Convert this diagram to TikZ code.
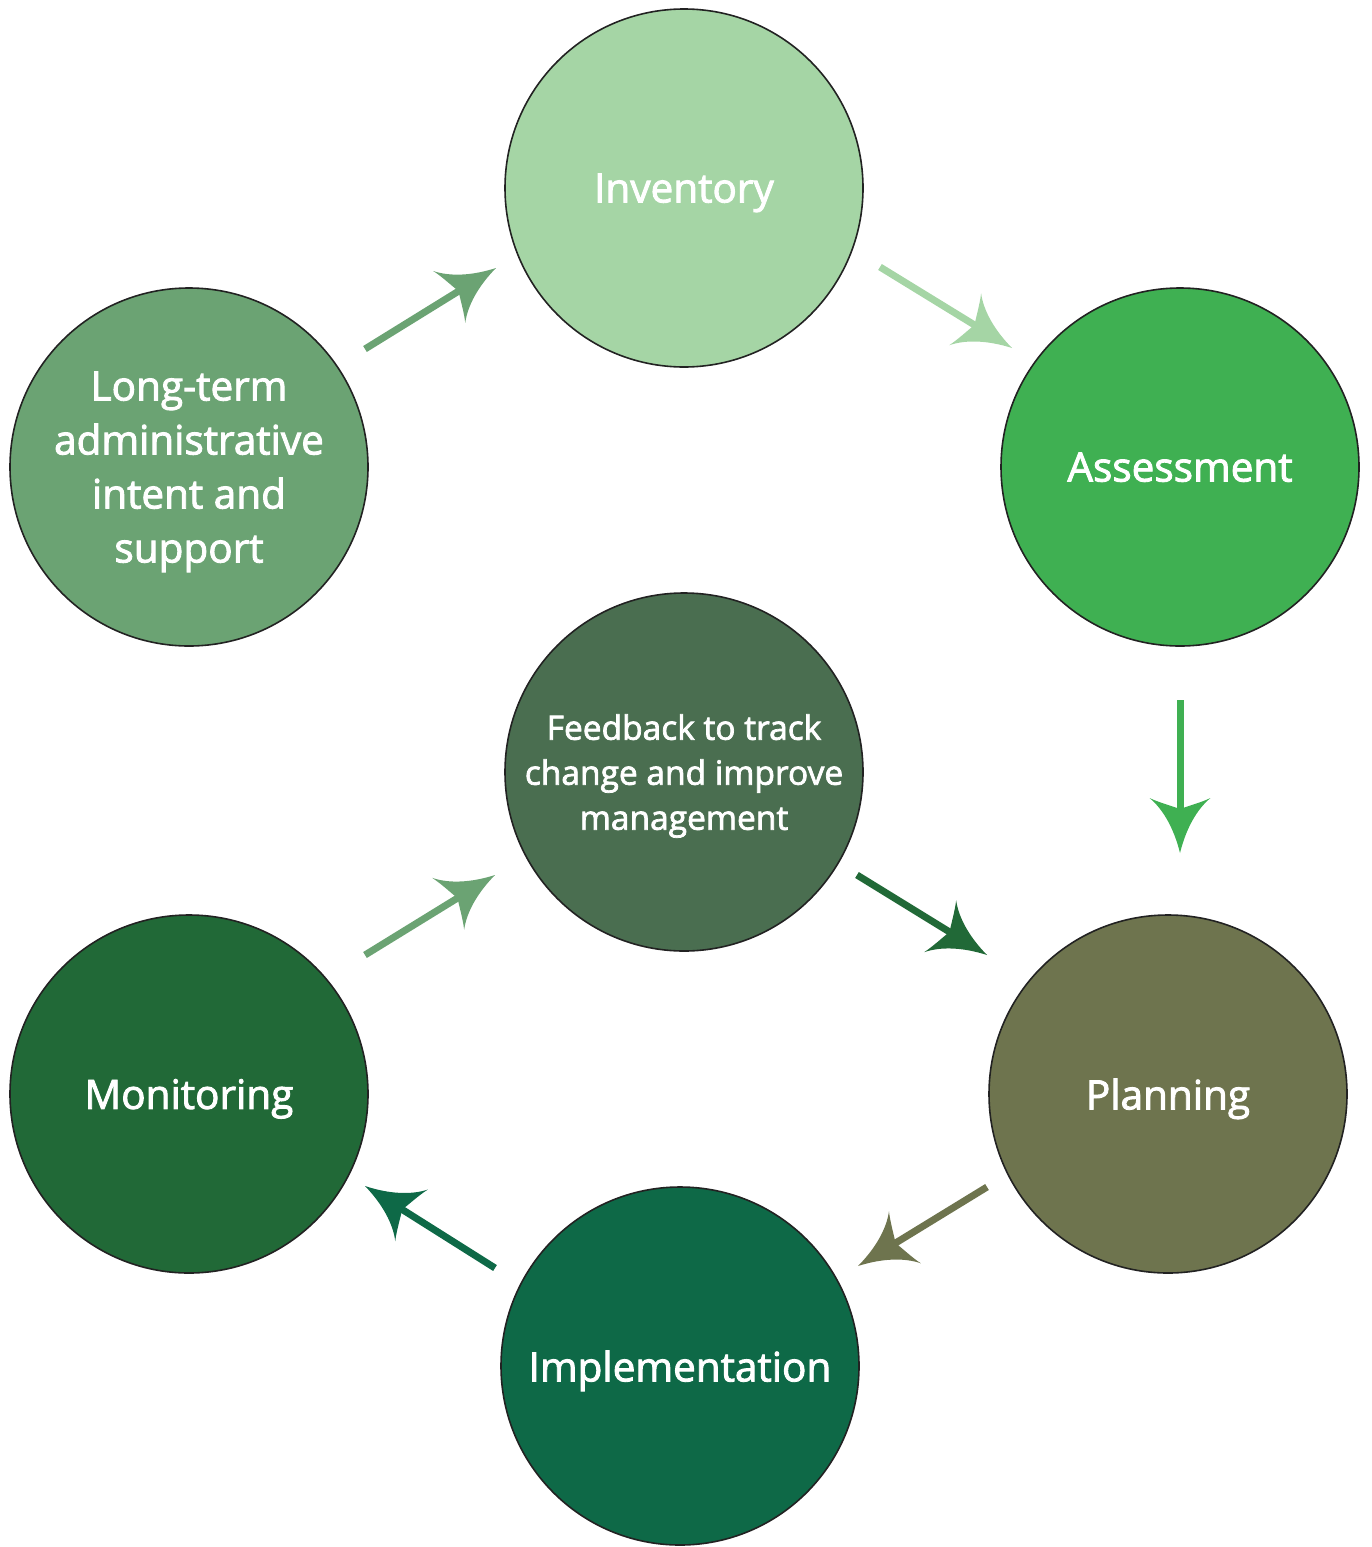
\documentclass[tikz,border=0pt]{standalone}
\usepackage{fontspec}
\setmainfont{Open Sans}
\newfontfamily\labelfont{Open Sans}[FakeBold=2.2]
\usetikzlibrary{calc,arrows.meta}

% filled arrow head with concave sides and a notched back
\pgfdeclarearrow{
  name = Barb,
  parameters = {\the\pgfarrowlength,\the\pgfarrowwidth},
  setup code = {
    \pgfarrowssettipend{0pt}
    \pgfarrowssetbackend{-\pgfarrowlength}
    \pgfarrowssetlineend{-0.7\pgfarrowlength}
    \pgfarrowsupperhullpoint{0pt}{0pt}
    \pgfarrowsupperhullpoint{-\pgfarrowlength}{0.5\pgfarrowwidth}
    \pgfarrowssavethe\pgfarrowlength
    \pgfarrowssavethe\pgfarrowwidth
  },
  drawing code = {
    \pgfpathmoveto{\pgfpointorigin}
    \pgfpathcurveto{\pgfpoint{-0.45\pgfarrowlength}{0.10\pgfarrowwidth}}
                   {\pgfpoint{-0.8\pgfarrowlength}{0.28\pgfarrowwidth}}
                   {\pgfpoint{-\pgfarrowlength}{0.5\pgfarrowwidth}}
    \pgfpathcurveto{\pgfpoint{-0.92\pgfarrowlength}{0.35\pgfarrowwidth}}
                   {\pgfpoint{-0.85\pgfarrowlength}{0.12\pgfarrowwidth}}
                   {\pgfpoint{-0.8\pgfarrowlength}{0pt}}
    \pgfpathcurveto{\pgfpoint{-0.85\pgfarrowlength}{-0.12\pgfarrowwidth}}
                   {\pgfpoint{-0.92\pgfarrowlength}{-0.35\pgfarrowwidth}}
                   {\pgfpoint{-\pgfarrowlength}{-0.5\pgfarrowwidth}}
    \pgfpathcurveto{\pgfpoint{-0.8\pgfarrowlength}{-0.28\pgfarrowwidth}}
                   {\pgfpoint{-0.45\pgfarrowlength}{-0.10\pgfarrowwidth}}
                   {\pgfpointorigin}
    \pgfpathclose
    \pgfusepathqfill
  },
  defaults = {length = 55pt, width = 61pt}
}

\definecolor{cInv}{HTML}{A5D5A5}
\definecolor{cAss}{HTML}{3FB052}
\definecolor{cLong}{HTML}{6BA373}
\definecolor{cFeed}{HTML}{4A6E50}
\definecolor{cPlan}{HTML}{6E744E}
\definecolor{cMon}{HTML}{216937}
\definecolor{cImp}{HTML}{0E6947}
\definecolor{cRim}{HTML}{222222}

\tikzset{
  stage/.style={circle, draw=cRim, line width=1.6pt, minimum size=358pt,
    inner sep=0pt, text=white, align=center, text depth=0pt,
    font=\labelfont\fontsize{40.5}{54}\selectfont},
  smallstage/.style={stage, font=\labelfont\fontsize{33.5}{45}\selectfont},
  flow/.style={line width=7pt, -{Barb}}
}

\begin{document}
\begin{tikzpicture}[x=1pt,y=-1pt]
  \useasboundingbox (0,0) rectangle (1371,1547);

  \node[stage, fill=cInv]  (inv)  at (684,188)  {Inventory};
  \node[stage, fill=cAss]  (ass)  at (1180,467) {Assessment};
  \node[stage, fill=cLong] (long) at (189,467)  {Long-term\\administrative\\intent and\\support};
  \node[smallstage, fill=cFeed] (feed) at (684,772) {Feedback to track\\change and improve\\management};
  \node[stage, fill=cPlan] (plan) at (1168,1094) {Planning};
  \node[stage, fill=cMon]  (mon)  at (189,1094) {Monitoring};
  \node[stage, fill=cImp]  (imp)  at (680,1366) {Implementation};

  \draw[flow, cLong] ($(long)+(176,-118)$) -- ($(inv)+(-188,80)$);
  \draw[flow, cInv]  ($(inv)+(196,79)$)    -- ($(ass)+(-168,-119)$);
  \draw[flow, cAss]  ($(ass)+(0,233)$)     -- ($(plan)+(12,-241)$);
  \draw[flow, cPlan] ($(plan)+(-181,93)$)  -- ($(imp)+(178,-100)$);
  \draw[flow, cImp]  ($(imp)+(-185,-98)$)  -- ($(mon)+(176,92)$);
  \draw[flow, cLong] ($(mon)+(176,-139)$)  -- ($(feed)+(-189,103)$);
  \draw[flow, cMon]  ($(feed)+(173,103)$)  -- ($(plan)+(-181,-139)$);
\end{tikzpicture}
\end{document}
